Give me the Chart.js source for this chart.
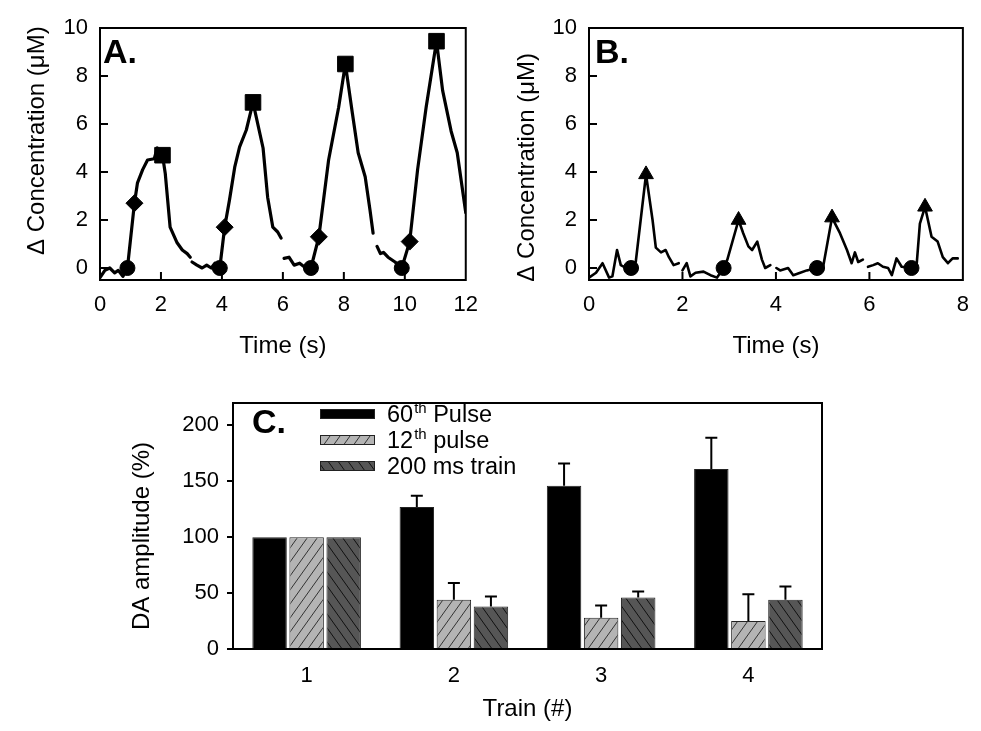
<!DOCTYPE html>
<html>
<head>
<meta charset="utf-8">
<script src="https://cdn.jsdelivr.net/npm/chart.js@4.4.0/dist/chart.umd.min.js"></script>
<style>
  html, body { margin: 0; padding: 0; background: #fff; }
  body { width: 981px; height: 731px; position: relative; overflow: hidden; }
  canvas { position: absolute; }
</style>
</head>
<body>
<canvas id="chart-a" width="490" height="365" style="left:0;top:0"></canvas>
<canvas id="chart-b" width="491" height="365" style="left:490px;top:0"></canvas>
<canvas id="chart-c" width="981" height="351" style="left:0;top:380px"></canvas>
<script>
// ---- panel A: four 2 s / 60 Hz trains (time s, delta DA uM), null = gap between recordings
const A_TIME = [0, 0.16, 0.32, 0.48, 0.6, 0.75, 0.9, 1.13, 1.23, 1.4, 1.56, 1.78, 1.88, 2.05, 2.14, 2.3, 2.53, 2.7, 2.86, 2.96, 2.99,
  3.02, 3.18, 3.35, 3.5, 3.65, 3.77, 3.93, 4.09, 4.25, 4.42, 4.58, 4.8, 5.02, 5.35, 5.5, 5.67, 5.83, 5.94, 5.99,
  6.04, 6.2, 6.37, 6.55, 6.75, 6.92, 7.18, 7.5, 7.83, 8.05, 8.28, 8.47, 8.7, 8.86, 8.96, 9.02,
  9.09, 9.2, 9.3, 9.45, 9.68, 9.9, 10.16, 10.42, 10.7, 11.04, 11.24, 11.52, 11.72, 12.0];
const A_CONC = [-0.4, -0.1, 0.0, -0.2, -0.1, -0.35, 0.0, 2.7, 3.55, 4.1, 4.5, 4.55, 5.0, 4.7, 3.95, 1.7, 1.05, 0.75, 0.6, 0.45, null,
  0.25, 0.12, 0.0, 0.12, 0.0, 0.2, 0.0, 1.7, 2.85, 4.2, 5.05, 5.75, 6.9, 5.0, 2.95, 1.7, 1.5, 1.25, null,
  0.4, 0.45, 0.12, 0.2, 0.0, 0.0, 1.3, 4.5, 6.7, 8.5, 6.45, 4.8, 3.8, 2.4, 1.45, null,
  0.9, 0.6, 0.65, 0.45, 0.25, 0.0, 1.1, 4.1, 6.7, 9.45, 7.4, 5.7, 4.8, 2.3];
const A_START_T = [0.9, 3.93, 6.92, 9.9];
const A_START_Y = [0, 0, 0, 0];
const A_P12_T = [1.13, 4.09, 7.18, 10.16];
const A_P12_Y = [2.7, 1.7, 1.3, 1.1];
const A_P60_T = [2.05, 5.02, 8.05, 11.04];
const A_P60_Y = [4.7, 6.9, 8.5, 9.45];

// ---- panel B: four 200 ms trains
const B_TIME = [0, 0.15, 0.29, 0.43, 0.5, 0.6, 0.68, 0.75, 0.9, 1.0, 1.22, 1.36, 1.43, 1.54, 1.64, 1.71, 1.81, 1.92, 1.96,
  2.0, 2.09, 2.17, 2.28, 2.45, 2.6, 2.74, 2.88, 2.96, 3.2, 3.3, 3.41, 3.49, 3.6, 3.7, 3.77, 3.88, 3.95,
  4.01, 4.09, 4.26, 4.37, 4.52, 4.66, 4.88, 5.01, 5.2, 5.37, 5.52, 5.62, 5.69, 5.76, 5.86, 5.92,
  5.97, 6.08, 6.18, 6.29, 6.4, 6.48, 6.58, 6.69, 6.9, 7.01, 7.08, 7.19, 7.33, 7.46, 7.57, 7.68, 7.78, 7.89];
const B_CONC = [-0.4, -0.2, 0.2, -0.4, -0.35, 0.75, 0.12, 0.05, 0.0, 0.25, 3.9, 2.0, 0.85, 0.65, 0.75, 0.45, 0.12, 0.2, null,
  -0.1, 0.2, -0.35, -0.2, -0.15, -0.3, -0.4, 0.0, 0.35, 2.0, 1.45, 0.9, 0.75, 1.1, 0.35, 0.0, 0.12, null,
  0.0, -0.1, 0.0, -0.3, -0.2, -0.1, 0.0, 0.05, 2.1, 1.45, 0.75, 0.2, 0.65, 0.25, 0.35, null,
  0.05, 0.12, 0.2, 0.05, 0.0, -0.3, 0.4, 0.05, 0.0, 0.12, 1.85, 2.55, 1.3, 1.1, 0.45, 0.2, 0.4, 0.4];
const B_START_T = [0.9, 2.88, 4.88, 6.9];
const B_START_Y = [0, 0, 0, 0];
const B_TRAIN_T = [1.22, 3.2, 5.2, 7.19];
const B_TRAIN_Y = [3.9, 2.0, 2.1, 2.55];

// ---- panel C: amplitude relative to train 1 (%), mean and SEM
const TRAINS = ['1', '2', '3', '4'];
const SERIES = ['60th Pulse', '12th pulse', '200 ms train'];
const PULSE60 = [100, 127, 146, 161];
const PULSE60_SEM = [0, 10, 20, 28];
const PULSE12 = [100, 44, 28, 25];
const PULSE12_SEM = [0, 15, 11, 24];
const TRAIN200 = [100, 38, 46, 44];
const TRAIN200_SEM = [0, 9, 5.5, 12];

const FONT = "'Liberation Sans', Arial, Helvetica, sans-serif";
Chart.defaults.font.family = FONT;
Chart.defaults.color = '#000';

const zip = (xs, ys) => xs.map((x, i) => ({x: x, y: ys[i]}));

function hatch(bg, fg, dir) {
  const w = 10, h = 14;
  const c = document.createElement('canvas');
  c.width = w; c.height = h;
  const g = c.getContext('2d');
  g.fillStyle = bg;
  g.fillRect(0, 0, w, h);
  g.strokeStyle = fg;
  g.lineWidth = 1;
  g.beginPath();
  for (let k = -1; k <= 1; k++) {
    if (dir > 0) { g.moveTo(k * w, h); g.lineTo(k * w + w, 0); }
    else { g.moveTo(k * w, 0); g.lineTo(k * w + w, h); }
  }
  g.stroke();
  return g.createPattern(c, 'repeat');
}

// box around the plot, inward ticks and the panel letter
const framePlugin = {
  id: 'frame',
  afterDraw(chart, args, opts) {
    const {ctx, chartArea: a} = chart;
    ctx.save();
    ctx.strokeStyle = '#000';
    ctx.lineWidth = 2;
    ctx.strokeRect(a.left, a.top, a.right - a.left, a.bottom - a.top);
    if (opts.inwardTicks) {
      ctx.beginPath();
      const xs = chart.scales.x, ys = chart.scales.y;
      xs.ticks.forEach(t => {
        const px = xs.getPixelForValue(t.value);
        if (px <= a.left + 1 || px >= a.right - 1) return;
        ctx.moveTo(px, a.bottom); ctx.lineTo(px, a.bottom - 8);
      });
      ys.ticks.forEach(t => {
        const py = ys.getPixelForValue(t.value);
        if (py <= a.top + 1 || py >= a.bottom - 1) return;
        ctx.moveTo(a.left, py); ctx.lineTo(a.left + 8, py);
      });
      ctx.stroke();
    }
    if (opts.label) {
      ctx.fillStyle = '#000';
      ctx.font = 'bold 34px ' + FONT;
      ctx.textBaseline = 'alphabetic';
      ctx.fillText(opts.label, a.left + opts.dx, a.top + opts.dy);
    }
    ctx.restore();
  }
};

const errorBarPlugin = {
  id: 'errorBars',
  afterDatasetsDraw(chart) {
    const {ctx} = chart;
    const ys = chart.scales.y;
    ctx.save();
    ctx.strokeStyle = '#000';
    ctx.lineWidth = 2;
    chart.data.datasets.forEach((ds, i) => {
      chart.getDatasetMeta(i).data.forEach((bar, j) => {
        if (!ds.sem[j]) return;
        const top = ys.getPixelForValue(ds.data[j] + ds.sem[j]);
        ctx.beginPath();
        ctx.moveTo(bar.x, bar.y);
        ctx.lineTo(bar.x, top);
        ctx.moveTo(bar.x - 6, top);
        ctx.lineTo(bar.x + 6, top);
        ctx.stroke();
      });
    });
    ctx.restore();
  }
};

// legend inside the plot with superscript ordinals
const hatchLegendPlugin = {
  id: 'hatchLegend',
  afterDraw(chart, args, opts) {
    const {ctx, chartArea: a} = chart;
    ctx.save();
    chart.data.datasets.forEach((ds, i) => {
      const x = a.left + opts.left;
      const y = a.top + opts.top + i * opts.gap;
      ctx.fillStyle = ds.backgroundColor;
      ctx.fillRect(x, y - 4.5, 55, 9);
      ctx.strokeStyle = '#222';
      ctx.lineWidth = 1;
      ctx.strokeRect(x + 0.5, y - 4.5, 54, 9);
      ctx.fillStyle = '#000';
      ctx.textBaseline = 'alphabetic';
      const base = y + 8;
      let tx = x + 67;
      const m = ds.label.match(/^(\d+)(st|nd|rd|th)(.*)$/);
      ctx.font = '23.5px ' + FONT;
      if (m) {
        ctx.fillText(m[1], tx, base);
        tx += ctx.measureText(m[1]).width + 1;
        ctx.font = '15px ' + FONT;
        ctx.fillText(m[2], tx, base - 9);
        tx += ctx.measureText(m[2]).width;
        ctx.font = '23.5px ' + FONT;
        ctx.fillText(m[3], tx, base);
      } else {
        ctx.fillText(ds.label, tx, base);
      }
    });
    ctx.restore();
  }
};

function traceOptions(xMax, panelLabel, labelDx, yTitle) {
  return {
    responsive: false,
    animation: false,
    layout: {padding: {top: 28, right: 19, left: 0, bottom: 0}},
    plugins: {
      legend: {display: false},
      tooltip: {enabled: false},
      frame: {inwardTicks: true, label: panelLabel, dx: labelDx, dy: 35}
    },
    scales: {
      x: {
        type: 'linear',
        min: 0,
        max: xMax,
        grid: {display: false, drawTicks: false},
        border: {display: false},
        ticks: {stepSize: 2, padding: 12, font: {size: 22}, color: '#000'},
        title: {display: true, text: 'Time (s)', font: {size: 24}, padding: {top: 0, bottom: 4}, color: '#000'},
        afterFit(s) { s.height = 85; }
      },
      y: {
        min: -0.5,
        max: 10,
        grid: {display: false, drawTicks: false},
        border: {display: false},
        ticks: {stepSize: 2, includeBounds: false, padding: 12, font: {size: 22}, color: '#000'},
        title: {display: true, text: yTitle, font: {size: 24}, padding: {top: 23, bottom: 0}, color: '#000'},
        afterFit(s) { s.width = 100; }
      }
    }
  };
}

const line = {borderColor: '#000', borderWidth: 3.2, pointRadius: 0, pointHitRadius: 0, tension: 0,
  spanGaps: false, borderJoinStyle: 'round', borderCapStyle: 'round', fill: false};
const marker = (data, style, r) => ({data: data, showLine: false, pointStyle: style, pointRadius: r,
  backgroundColor: '#000', borderColor: '#000', borderWidth: 1});

new Chart(document.getElementById('chart-a'), {
  type: 'line',
  data: {
    datasets: [
      Object.assign({label: 'trace', data: zip(A_TIME, A_CONC)}, line),
      Object.assign({label: 'start'}, marker(zip(A_START_T, A_START_Y), 'circle', 7.5)),
      Object.assign({label: '12th pulse'}, marker(zip(A_P12_T, A_P12_Y), 'rectRot', 8.5)),
      Object.assign({label: '60th pulse'}, marker(zip(A_P60_T, A_P60_Y), 'rect', 11))
    ]
  },
  options: traceOptions(12, 'A.', 3, '    Δ Concentration (μM)'),
  plugins: [framePlugin]
});

const bOptions = traceOptions(8, 'B.', 6, 'Δ Concentration (μM)    ');
bOptions.layout.padding.right = 18;
bOptions.scales.y.afterFit = s => { s.width = 99; };
new Chart(document.getElementById('chart-b'), {
  type: 'line',
  data: {
    datasets: [
      Object.assign({label: 'trace', data: zip(B_TIME, B_CONC)}, line, {borderWidth: 2.6}),
      Object.assign({label: 'start'}, marker(zip(B_START_T, B_START_Y), 'circle', 7.5)),
      Object.assign({label: '200 ms train'}, marker(zip(B_TRAIN_T, B_TRAIN_Y), 'triangle', 8.5))
    ]
  },
  options: bOptions,
  plugins: [framePlugin]
});

const barStyle = {borderColor: '#222', borderWidth: 1, categoryPercentage: 0.755, barPercentage: 0.93};
new Chart(document.getElementById('chart-c'), {
  type: 'bar',
  data: {
    labels: TRAINS,
    datasets: [
      Object.assign({label: SERIES[0], data: PULSE60, sem: PULSE60_SEM, backgroundColor: '#000'}, barStyle),
      Object.assign({label: SERIES[1], data: PULSE12, sem: PULSE12_SEM, backgroundColor: hatch('#b4b4b4', '#333', 1)}, barStyle),
      Object.assign({label: SERIES[2], data: TRAIN200, sem: TRAIN200_SEM, backgroundColor: hatch('#565656', '#111', -1)}, barStyle)
    ]
  },
  options: {
    responsive: false,
    animation: false,
    layout: {padding: {top: 23, right: 159, left: 0, bottom: 0}},
    plugins: {
      legend: {display: false},
      tooltip: {enabled: false},
      frame: {inwardTicks: false, label: 'C.', dx: 19, dy: 30},
      hatchLegend: {left: 87, top: 11, gap: 26}
    },
    scales: {
      x: {
        grid: {display: false, drawTicks: false},
        border: {display: false},
        ticks: {padding: 14, font: {size: 22}, color: '#000'},
        title: {display: true, text: 'Train (#)', font: {size: 24}, padding: {top: 0, bottom: 7}, color: '#000'},
        afterFit(s) { s.height = 82; }
      },
      y: {
        min: 0,
        max: 220,
        grid: {drawOnChartArea: false, drawTicks: true, tickLength: 6, color: '#000', lineWidth: 2},
        border: {display: false},
        ticks: {stepSize: 50, includeBounds: false, padding: 8, font: {size: 22}, color: '#000'},
        title: {display: true, text: 'DA amplitude (%)   ', font: {size: 24}, padding: {top: 128, bottom: 0}, color: '#000'},
        afterFit(s) { s.width = 233; }
      }
    }
  },
  plugins: [framePlugin, errorBarPlugin, hatchLegendPlugin]
});
</script>
</body>
</html>
